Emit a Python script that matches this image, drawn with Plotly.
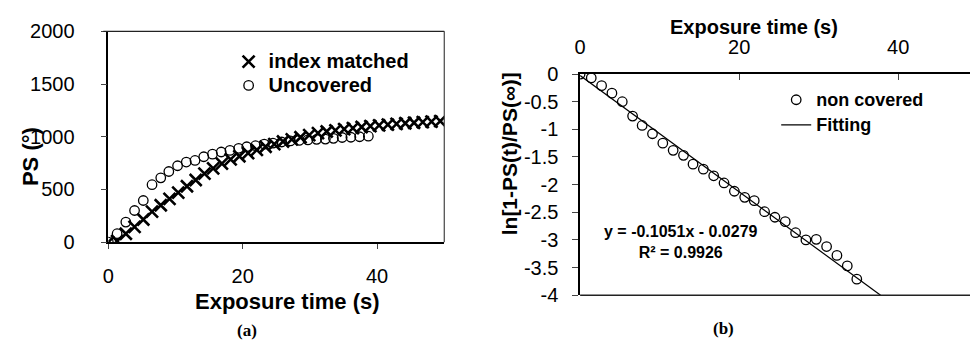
import plotly.graph_objects as go

# ---- panel (a): phase shift vs exposure time ----
t_index = [0, 1.3, 2.6, 3.9, 5.2, 6.5, 7.8, 9.1, 10.4, 11.7, 13.0, 14.3, 15.6,
           16.9, 18.2, 19.5, 20.8, 22.1, 23.4, 24.7, 26.0, 27.3, 28.6, 29.9,
           31.2, 32.5, 33.8, 35.1, 36.4, 37.7, 39.0, 40.3, 41.6, 42.9, 44.2,
           45.5, 46.8, 48.1, 49.4]
ps_index = [0, 10, 80, 145, 215, 290, 350, 410, 470, 530, 590, 650, 700,
            745, 785, 815, 845, 875, 905, 930, 955, 975, 995, 1015,
            1035, 1050, 1060, 1072, 1082, 1092, 1100, 1108, 1115, 1122, 1128,
            1133, 1138, 1143, 1148]

t_uncov = [0, 1.3, 2.6, 3.9, 5.2, 6.5, 7.8, 9.0, 10.3, 11.6, 12.9, 14.2, 15.5,
           16.8, 18.1, 19.4, 20.6, 21.9, 23.2, 24.5, 25.8, 27.1, 28.4, 29.7,
           31.0, 32.3, 33.5, 34.8, 36.1, 37.4, 38.7]
ps_uncov = [0, 80, 190, 300, 395, 545, 610, 670, 725, 760, 775, 810, 835,
            855, 870, 890, 905, 915, 930, 940, 950, 960, 965, 970,
            975, 978, 985, 993, 995, 1000, 1005]

# ---- panel (b): linearised decay with least-squares fit ----
t_log = [0, 1.4, 2.7, 4.0, 5.3, 6.6, 7.8, 9.1, 10.4, 11.7, 13.0, 14.2, 15.5,
         16.8, 18.1, 19.4, 20.7, 21.9, 23.2, 24.5, 25.8, 27.1, 28.4, 29.7,
         31.0, 32.3, 33.6, 34.8]
ln_log = [0, -0.07, -0.21, -0.345, -0.50, -0.76, -0.93, -1.08, -1.25, -1.38,
          -1.47, -1.63, -1.72, -1.84, -1.97, -2.12, -2.23, -2.29, -2.49,
          -2.59, -2.67, -2.87, -3.0, -2.99, -3.12, -3.28, -3.47, -3.71]

fit_slope = -0.1051
fit_intercept = -0.0279
fit_r2 = 0.9926
y_floor = -4
fit_x = [0, (y_floor - fit_intercept) / fit_slope]
fit_y = [fit_intercept + fit_slope * x for x in fit_x]

FONT = "Liberation Sans, Arial, sans-serif"
W, H = 970, 349


def legend_label(text, px):
    return f'<span style="font-size:{px}px"><b>{text}</b></span>'


fig = go.Figure()

fig.add_trace(go.Scatter(
    x=t_index, y=ps_index, mode="markers",
    name=legend_label("index matched", 20),
    marker=dict(symbol="x-thin-open", size=12, color="black",
                line=dict(color="black", width=2.6)),
    xaxis="x", yaxis="y", legend="legend"))
fig.add_trace(go.Scatter(
    x=t_uncov, y=ps_uncov, mode="markers",
    name=legend_label("Uncovered", 20),
    marker=dict(symbol="circle-open", size=9.5, color="black",
                line=dict(color="black", width=1.3)),
    xaxis="x", yaxis="y", legend="legend"))

fig.add_trace(go.Scatter(
    x=t_log, y=ln_log, mode="markers",
    name=legend_label("non covered", 18),
    marker=dict(symbol="circle-open", size=9.5, color="black",
                line=dict(color="black", width=1.3)),
    xaxis="x2", yaxis="y2", legend="legend2"))
fig.add_trace(go.Scatter(
    x=fit_x, y=fit_y, mode="lines",
    name=legend_label("Fitting", 18),
    line=dict(color="black", width=1.2),
    xaxis="x2", yaxis="y2", legend="legend2"))

tick_font = dict(family=FONT, size=20, color="black")

fig.update_layout(
    width=W, height=H, margin=dict(l=0, r=0, t=0, b=0),
    paper_bgcolor="white", plot_bgcolor="white",
    font=dict(family=FONT, color="black"),
    xaxis=dict(domain=[103 / W, 441 / W], range=[0, 50], anchor="y",
               tickvals=[0, 20, 40], ticks="outside", ticklen=5, tickwidth=1,
               tickcolor="#444", showline=True, linecolor="black", linewidth=2,
               showgrid=False, zeroline=False, tickfont=tick_font,
               ticklabelstandoff=10),
    yaxis=dict(domain=[1 - 246.7 / H, 1 - 21.7 / H], range=[0, 2000],
               anchor="x", tickvals=[0, 500, 1000, 1500, 2000],
               ticks="outside", ticklen=6, tickwidth=1, tickcolor="#444",
               showline=True, linecolor="black", linewidth=1.5,
               showgrid=False, zeroline=False, tickfont=tick_font,
               ticklabelstandoff=22),
    xaxis2=dict(domain=[577.7 / W, 1.0], range=[0, (W - 577.7) / 8.0],
                anchor="y2", side="top", tickvals=[0, 20, 40],
                ticks="inside", ticklen=6, tickwidth=1, tickcolor="#444",
                showline=True, linecolor="black", linewidth=1.5,
                showgrid=False, zeroline=False, tickfont=tick_font,
                ticklabelstandoff=10),
    yaxis2=dict(domain=[1 - 303.3 / H, 1 - 67.3 / H], range=[-4, 0],
                anchor="x2", tickvals=[0, -0.5, -1, -1.5, -2, -2.5, -3, -3.5, -4],
                ticktext=["0", "-0.5", "-1", "-1.5", "-2", "-2.5", "-3", "-3.5", "-4"],
                ticks="outside", ticklen=6, tickwidth=1, tickcolor="#444",
                showline=True, linecolor="black", linewidth=1.5,
                showgrid=False, zeroline=False, tickfont=tick_font,
                ticklabelstandoff=10),
    legend=dict(x=224 / W, y=1 - 36 / H, xanchor="left", yanchor="top",
                bgcolor="rgba(0,0,0,0)", borderwidth=0,
                font=dict(family=FONT, size=16, color="black"),
                tracegroupgap=0),
    legend2=dict(x=775 / W, y=1 - 76 / H, xanchor="left", yanchor="top",
                 bgcolor="rgba(0,0,0,0)", borderwidth=0,
                 font=dict(family=FONT, size=17, color="black"),
                 tracegroupgap=0),
    showlegend=True,
)

# frame lines: thin top/right border in (a), bottom border in (b)
fig.add_shape(type="line", xref="x domain", yref="y domain",
              x0=-0.015, x1=1, y0=1, y1=1, line=dict(color="#222", width=1.2))
fig.add_shape(type="line", xref="x domain", yref="y domain",
              x0=1, x1=1, y0=0, y1=1, line=dict(color="#444", width=1.2))
fig.add_shape(type="line", xref="x2 domain", yref="y2 domain",
              x0=0, x1=1, y0=0, y1=0, line=dict(color="#222", width=1.5))


def ann(text, x, y, size, angle=0, bold=True, family=FONT, xanchor="center"):
    fig.add_annotation(
        text=f"<b>{text}</b>" if bold else text, x=x / W, y=1 - y / H,
        xref="paper", yref="paper", showarrow=False, textangle=angle,
        xanchor=xanchor, yanchor="middle",
        font=dict(family=family, size=size, color="black"))


ann("Exposure time (s)", 283, 310, 22)
ann("PS (°)", 24, 155, 22, angle=-90)
ann("Exposure time (s)", 753, 17, 20)
ann("ln[1-PS(t)/PS(∞)]", 507, 152, 21, angle=-90)

fig.add_annotation(
    text=f"<b>y = {fit_slope}x - {abs(fit_intercept)}</b><br><b>R² = {fit_r2}</b>",
    x=679 / W, y=1 - 247 / H, xref="paper", yref="paper", showarrow=False,
    align="center", xanchor="center", yanchor="middle",
    font=dict(family=FONT, size=16, color="black"))

ann("(a)", 242, 341, 17, family="Liberation Serif, serif")
ann("(b)", 722, 339, 17, family="Liberation Serif, serif")

fig.write_html("out.html")
